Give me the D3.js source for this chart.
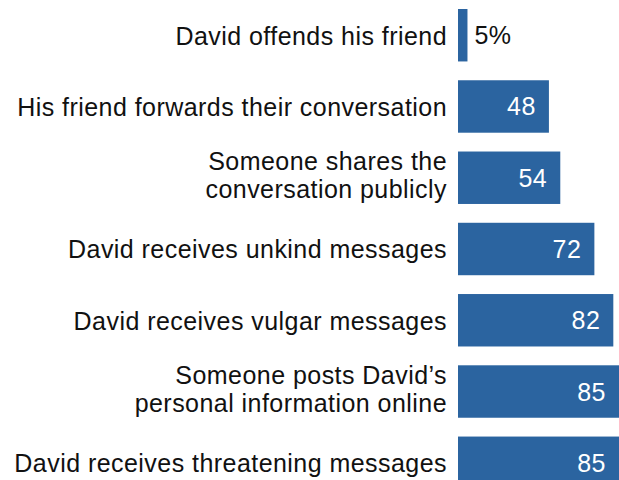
<!DOCTYPE html>
<html>
<head>
<meta charset="utf-8">
<script src="https://cdn.jsdelivr.net/npm/d3@7"></script>
<style>
  body { margin: 0; background: #fff; }
  text { font-family: "Liberation Sans", Arial, sans-serif; }
</style>
</head>
<body>
<div id="chart"></div>
<script>
const categories = [
    ["David offends his friend"],
    ["His friend forwards their conversation"],
    ["Someone shares the", "conversation publicly"],
    ["David receives unkind messages"],
    ["David receives vulgar messages"],
    ["Someone posts David\u2019s", "personal information online"],
    ["David receives threatening messages"]
];
const values = [5, 48, 54, 72, 82, 85, 85];
const valueLabels = ["5%", "48", "54", "72", "82", "85", "85"];

const width = 619, height = 480;
const barLeft = 458;

const svg = d3.select("#chart").append("svg")
    .attr("width", width)
    .attr("height", height);

const x = d3.scaleLinear().domain([0, 85]).range([0, 161]);
const y = d3.scaleBand()
    .domain(d3.range(categories.length))
    .range([9, 489])
    .paddingInner(0.264);

const rows = svg.selectAll(".row")
    .data(values)
    .enter().append("g")
    .attr("class", "row")
    .attr("transform", (d, i) => `translate(0, ${y(i)})`);

rows.append("rect")
    .attr("x", barLeft)
    .attr("width", d => x(d))
    .attr("height", y.bandwidth())
    .attr("fill", "#2b64a0");

// category labels, right-aligned next to the bars
rows.append("text")
    .attr("text-anchor", "end")
    .attr("fill", "#111")
    .style("font-size", "25px")
    .style("letter-spacing", "0.45px")
    .each(function (d, i) {
        const lines = categories[i];
        const mid = y.bandwidth() / 2;
        lines.forEach((line, j) => {
            const dy = lines.length === 1 ? 9.5 : (j === 0 ? -8 : 20.5);
            d3.select(this).append("tspan")
                .attr("x", barLeft - 11)
                .attr("y", mid + dy)
                .text(line);
        });
    });

// value labels: inside the bar end, or outside for small bars
rows.append("text")
    .attr("x", d => d < 20 ? barLeft + x(d) + 7 : barLeft + x(d) - 13)
    .attr("y", y.bandwidth() / 2 + 9)
    .attr("text-anchor", d => d < 20 ? "start" : "end")
    .attr("fill", d => d < 20 ? "#111" : "#fff")
    .style("font-size", "25px")
    .style("letter-spacing", "0.5px")
    .text((d, i) => valueLabels[i]);
</script>
</body>
</html>
